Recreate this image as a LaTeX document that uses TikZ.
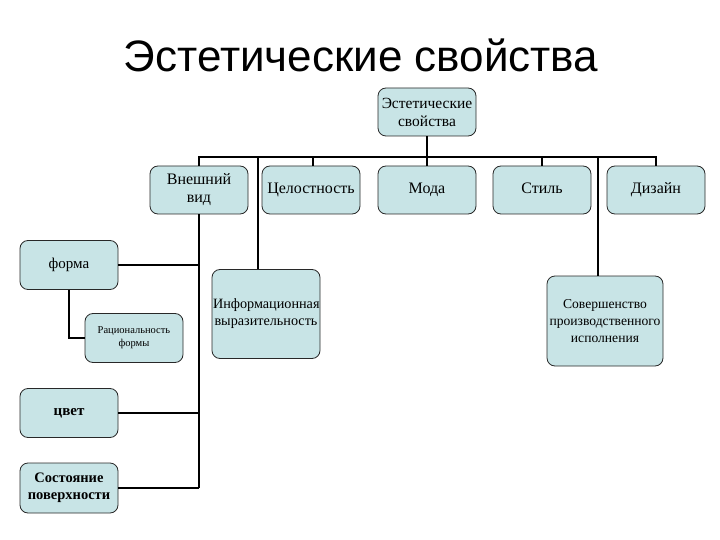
\documentclass[tikz,border=0pt]{standalone}
\usepackage{fontspec}
\setmainfont{Liberation Serif}
\newfontfamily\titlefont{Liberation Sans}
\usetikzlibrary{positioning}
\definecolor{boxfill}{RGB}{200,228,230}
\definecolor{boxline}{RGB}{40,40,40}

\tikzset{
  box/.style={draw=boxline, line width=0.8pt, fill=boxfill, rounded corners=8pt,
    minimum width=98pt, minimum height=48pt, align=center, inner sep=1pt,
    font=\fontsize{16}{18}\selectfont},
  conn/.style={line width=2pt, black}
}

\begin{document}
\begin{tikzpicture}[x=1pt, y=-1pt]
  \useasboundingbox (0,0) rectangle (720,540);

  % Title
  \node[font=\titlefont\fontsize{44}{48}\selectfont] (title) at (361,55) {Эстетические свойства};

  % Top
  \node[box, font=\fontsize{15.5}{18}\selectfont] (top) at (427,112) {Эстетические\\свойства};

  % Level 2
  \node[box] (vid) at (199,190) {Внешний\\вид};
  \node[box] (cel) at (311,190) {\strut Целостность};
  \node[box] (moda) at (427,190) {\strut Мода};
  \node[box] (stil) at (542,190) {\strut Стиль};
  \node[box] (dizain) at (656,190) {\strut Дизайн};

  % Sub-items
  \node[box, minimum width=108pt, minimum height=89pt, text width=106pt, font=\fontsize{14.2}{17}\selectfont] (info) at (266,314) {Информационная\\выразительность};
  \node[box, minimum width=116pt, minimum height=90pt, text width=114pt, font=\fontsize{13.6}{17}\selectfont] (sov) at (605,321) {Совершенство\\производственного\\исполнения};

  \node[box, minimum height=49pt, font=\fontsize{15}{17}\selectfont] (forma) at (69,265) {форма};
  \node[box, minimum height=49pt, font=\fontsize{10.5}{13}\selectfont] (rac) at (134,338) {Рациональность\\формы};
  \node[box, minimum height=49pt, font=\bfseries\fontsize{15}{17}\selectfont] (cvet) at (69,413) {цвет};
  \node[box, minimum height=50pt, font=\bfseries\fontsize{14.5}{17}\selectfont] (sost) at (69,488) {Состояние\\поверхности};

  % Bus
  \coordinate (bus) at (427,157);
  \draw[conn] (top.south) -- (bus);
  \draw[conn] (vid.north) |- (bus);
  \draw[conn] (dizain.north) |- (bus);
  \draw[conn] ([xshift=2pt]cel.north) -- ([xshift=2pt]cel.north |- bus);
  \draw[conn] (moda.north) -- (bus);
  \draw[conn] (stil.north) -- (stil.north |- bus);
  \draw[conn] ([xshift=-8pt]info.north) -- ([xshift=-8pt]info.north |- bus);
  \draw[conn] ([xshift=-7pt]sov.north) -- ([xshift=-7pt]sov.north |- bus);

  % Внешний вид branch
  \draw[conn] (vid.south) -- (vid.south |- sost.east);
  \draw[conn] (forma.east) -- (forma.east -| vid.south);
  \draw[conn] (cvet.east) -- (cvet.east -| vid.south);
  \draw[conn] (sost.east) -- (sost.east -| vid.south);
  \draw[conn] (forma.south) |- (rac.west);
\end{tikzpicture}
\end{document}
